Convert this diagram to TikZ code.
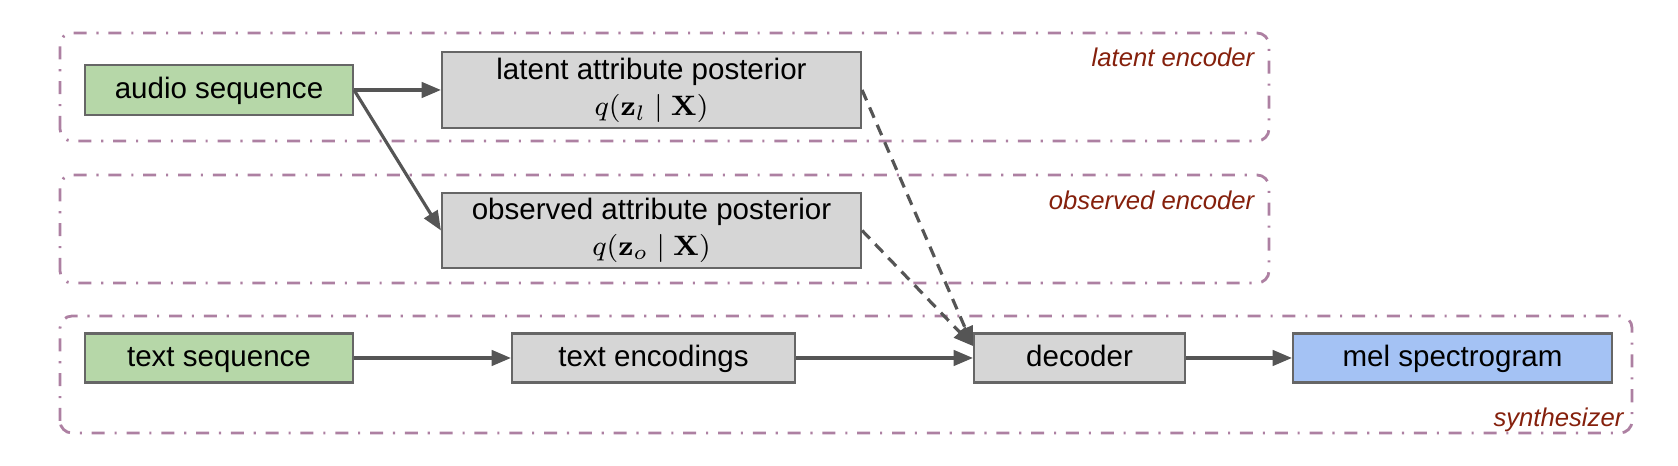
\documentclass[tikz,border=0pt]{standalone}
\usepackage[no-math]{fontspec}
\setmainfont{Liberation Sans}
\usetikzlibrary{arrows.meta,shapes.misc}
\definecolor{boxgreen}{HTML}{B6D7A8}
\definecolor{boxgray}{HTML}{D6D6D6}
\definecolor{boxblue}{HTML}{A4C2F4}
\definecolor{boxline}{HTML}{666666}
\definecolor{frame}{HTML}{AD80A2}
\definecolor{tagred}{HTML}{85200C}
\definecolor{wire}{HTML}{555555}
\tikzset{oneline/.style={text height=0.72em,text depth=0.21em}}

\begin{document}
\begin{tikzpicture}
\useasboundingbox (0,0) rectangle (16.78,4.66);
\begin{scope}[draw=frame,line width=0.8pt,rounded corners=0.12cm,
              dash pattern=on 3.7pt off 2.8pt on 0.6pt off 2.8pt]
    \draw (0.60,3.25) rectangle (12.69,4.33);
    \draw (0.60,1.83) rectangle (12.69,2.91);
    \draw (0.60,0.33) rectangle (16.32,1.50);
\end{scope}
\begin{scope}[every node/.style={anchor=east,inner sep=0pt,text=tagred,
              font=\fontsize{7.3}{8.8}\selectfont\itshape}]
    \node (LE) at (12.55,4.09) {latent encoder};
    \node (OE) at (12.55,2.66) {observed encoder};
    \node (SY) at (16.24,0.46) {synthesizer};
\end{scope}
\begin{scope}[every node/.style={rectangle,draw=boxline,line width=0.6pt,
              inner sep=0pt,align=center,font=\fontsize{8.4}{10.2}\selectfont}]
    \node[oneline,fill=boxgreen,minimum width=2.68cm,minimum height=0.50cm] (Au) at (2.19,3.76) {audio sequence};
    \node[fill=boxgray,minimum width=4.19cm,minimum height=0.76cm] (Lat) at (6.515,3.76)
        {latent attribute posterior\\$q(\mathbf{z}_l \mid \mathbf{X})$};
    \node[fill=boxgray,minimum width=4.19cm,minimum height=0.75cm] (Obs) at (6.515,2.355)
        {observed attribute posterior\\$q(\mathbf{z}_o \mid \mathbf{X})$};
    \node[oneline,fill=boxgreen,minimum width=2.68cm,minimum height=0.49cm] (Txt) at (2.19,1.08) {text sequence};
    \node[oneline,fill=boxgray,minimum width=2.83cm,minimum height=0.49cm] (Enc) at (6.535,1.08) {text encodings};
    \node[oneline,fill=boxgray,minimum width=2.11cm,minimum height=0.49cm] (Dec) at (10.795,1.08) {decoder};
    \node[oneline,fill=boxblue,minimum width=3.19cm,minimum height=0.49cm] (Mel) at (14.525,1.08) {mel spectrogram};
\end{scope}
\begin{scope}[>={Triangle[length=5.5pt,width=4.4pt]},
              every edge/.style={draw=wire,line width=0.9pt}]
    \path [->] (Au) edge (Lat);
    \path [->] (Au.east) edge (Obs.west);
    \path [->] (Txt) edge (Enc);
    \path [->] (Enc) edge (Dec);
    \path [->] (Dec) edge (Mel);
    \path [->] (Lat.east) edge [dash pattern=on 3.2pt off 2.2pt] ([yshift=3.4pt]Dec.west);
    \path [->] (Obs.east) edge [dash pattern=on 3.2pt off 2.2pt] ([yshift=3.4pt]Dec.west);
\end{scope}
\end{tikzpicture}
\end{document}
